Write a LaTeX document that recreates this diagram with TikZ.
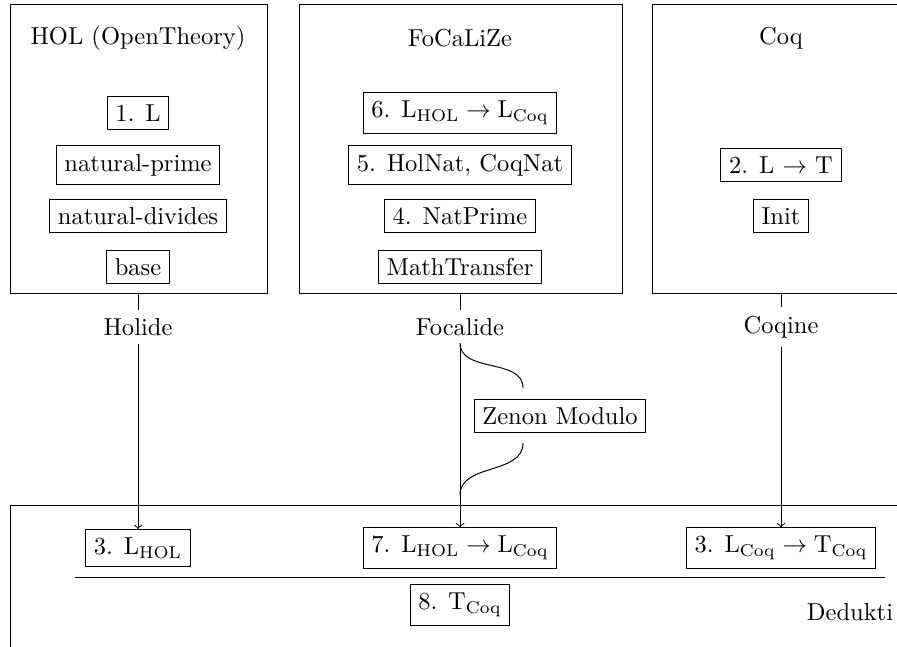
\documentclass[tikz,border=0pt]{standalone}
\begin{document}
\begin{tikzpicture}[x=0.408pt,y=-0.408pt,
  itembox/.style={draw},
  plain/.style={},
  >=to]
\clip (0,0) rectangle (897,646);
% big boxes
\draw (10,4) rectangle (267,293);
\draw (299,4) rectangle (622,293);
\draw (652,4) rectangle (912,293);
\draw (10,505) rectangle (912,662);
\coordinate (holbot) at (138,293);
\coordinate (focbot) at (460,293);
\coordinate (coqbot) at (781,293);
% titles
\node[plain] (holt) at (138,38) {HOL (OpenTheory)};
\node[plain] (foct) at (460,38) {FoCaLiZe};
\node[plain] (coqt) at (781,38) {Coq};
% HOL items
\node[itembox] (h1) at (138,113) {1. L};
\node[itembox] (h2) at (138,165) {natural-prime};
\node[itembox] (h3) at (138,216) {natural-divides};
\node[itembox] (h4) at (138,267) {base};
% FoCaLiZe items
\node[itembox] (f1) at (460,113) {6. $\mathrm{L}_{\mathrm{HOL}}\rightarrow\mathrm{L}_{\mathrm{Coq}}$};
\node[itembox] (f2) at (460,165) {5. HolNat, CoqNat};
\node[itembox] (f3) at (460,216) {4. NatPrime};
\node[itembox] (f4) at (460,267) {MathTransfer};
% Coq items
\node[itembox] (c1) at (781,165) {2. L $\rightarrow$ T};
\node[itembox] (c2) at (781,216) {Init};
% tool labels
\node[plain] (holide) at (138,327) {Holide};
\node[plain] (focalide) at (460,327) {Focalide};
\node[plain] (coqine) at (781,327) {Coqine};
% Dedukti items
\node[itembox] (d1) at (138,548) {3. $\mathrm{L}_{\mathrm{HOL}}$};
\node[itembox] (d2) at (460,548) {7. $\mathrm{L}_{\mathrm{HOL}}\rightarrow\mathrm{L}_{\mathrm{Coq}}$};
\node[itembox] (d3) at (781,548) {3. $\mathrm{L}_{\mathrm{Coq}}\rightarrow\mathrm{T}_{\mathrm{Coq}}$};
\node[itembox] (d4) at (460,605) {8. $\mathrm{T}_{\mathrm{Coq}}$};
\node[plain] (ded) at (850,612) {Dedukti};
\coordinate (la) at (75,577);
\coordinate (lb) at (885,577);
\draw (la) -- (lb);
% Zenon
\node[itembox] (zen) at (560,416) {Zenon Modulo};
\coordinate (zt) at (523,388);
\coordinate (zb) at (523,443);
\coordinate (fz1) at (460,343);
\coordinate (fz2) at (460,495);
% connectors
\draw (holbot) -- (holide.north);
\draw (focbot) -- (focalide.north);
\draw (coqbot) -- (coqine.north);
\draw[->] (holide.south) -- (d1.north);
\draw[->] (focalide.south) -- (d2.north);
\draw[->] (coqine.south) -- (d3.north);
\draw (fz1) to[out=-90,in=90] (zt);
\draw (zb) to[out=-90,in=90] (fz2);
\end{tikzpicture}
\end{document}
